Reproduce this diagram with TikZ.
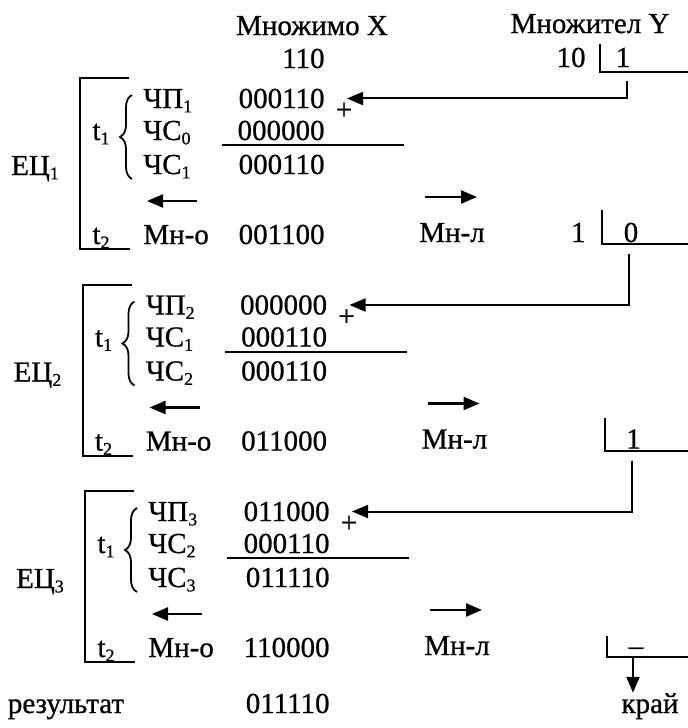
\documentclass[tikz,border=0pt]{standalone}
\usepackage{fontspec}
\setmainfont{Liberation Serif}[UprightFeatures={FakeBold=0.8}]
\usetikzlibrary{arrows.meta, positioning, decorations.pathreplacing}
\newcommand{\ix}[1]{\raisebox{-2.2pt}{\fontsize{9}{9}\selectfont#1}}

\begin{document}
\begin{tikzpicture}[x=0.5pt, y=-0.5pt, font=\fontsize{14.5}{17}\selectfont,
  >={Triangle[length=8pt, width=6.5pt]},
  txt/.style={inner sep=0pt, anchor=base},
  lbl/.style={inner sep=0pt, anchor=base west},
  num/.style={inner sep=0pt, anchor=base east},
  ln/.style={line width=1pt},
  curly/.style={decorate, decoration={brace, amplitude=6pt}, line width=0.9pt},
  feed/.style={->, line width=1pt, shorten >=11pt},
  sarr/.style={->, line width=1.2pt}]
  \useasboundingbox (0,0) rectangle (688,728);
  % headings and multiplier register
  \node[txt] (hx) at (312,35) {Множимо X};
  \node[txt] (hy) at (590,33) {Множител Y};
  \node[num] (x0) at (325,68) {110};
  \node[num] (yh) at (586,67) {10};
  \node[txt] (y0) at (623,67) {1};
  \draw[ln] (600,44) |- (688,72);
  \coordinate (c0) at (627,81);
  % one cycle per multiplier bit
  \foreach \g/\pp/\so/\sn/\mx/\yd/\yt in
    {1/000110/000000/000110/001100/0/132,
     2/000000/000110/000110/011000/1/133,
     3/011000/000110/011110/110000/\textendash/145}{
    \pgfmathsetmacro{\T}{78+(\g-1)*206.5}
    \pgfmathsetmacro{\dx}{(\g-1)*2.5}
    \pgfmathtruncatemacro{\gp}{\g-1}
    \draw[ln] (129+\dx,\T) -| (80+\dx,\T+171) -- (130+\dx,\T+171);
    \node[txt] (e\g) at (35+\dx,\T+97) {ЕЦ\ix{\g}};
    \node[txt] (ta\g) at (101+\dx,\T+62) {t\ix{1}};
    \draw[curly] (132+\dx,\T+101) -- (132+\dx,\T+17);
    \node[lbl] (lp\g) at (143+\dx,\T+30) {ЧП\ix{\g}};
    \node[lbl] (ls\g) at (143+\dx,\T+62) {ЧС\ix{\gp}};
    \node[lbl] (lc\g) at (143+\dx,\T+96) {ЧС\ix{\g}};
    \node[num] (p\g) at (325+\dx,\T+30) {\pp};
    \node[num] (s\g) at (325+\dx,\T+62) {\so};
    \node[num] (n\g) at (325+\dx,\T+96) {\sn};
    \node[inner sep=0pt] (plus\g) at (344+\dx,\T+33) {+};
    \draw[ln] (222+\dx,\T+67) -- (404+\dx,\T+67);
    \draw[sarr] (197+\dx,\T+123) -- (147+\dx,\T+123);
    \draw[sarr] (425+\dx,\T+119) -- (477+\dx,\T+119);
    \node[txt] (tb\g) at (101+\dx,\T+166) {t\ix{2}};
    \node[lbl] (lm\g) at (143+\dx,\T+166) {Мн-о};
    \node[num] (m\g) at (325+\dx,\T+166) {\mx};
    \node[txt] (lr\g) at (452+\dx,\T+164) {Мн-л};
    \node[txt] (y\g) at (631+\dx,\T+164) {\yd};
    \draw[ln] (602+\dx,\T+\yt) |- (688,\T+166);
    \coordinate (c\g) at (629+\dx,\T+176);
  }
  \node[num] (ya1) at (586,242) {1};
  % bit of Y feeds the partial product
  \foreach \a/\b in {0/1,1/2,2/3}
    \draw[feed] (c\a) |- (p\b);
  % result
  \node[txt] (res) at (66,713) {результат};
  \node[num] (r) at (330,713) {011110};
  \node[txt] (kraj) at (650,713) {край};
  \coordinate (k) at (633,657);
  \draw[sarr] (k) -- (k |- kraj.north);
\end{tikzpicture}
\end{document}
